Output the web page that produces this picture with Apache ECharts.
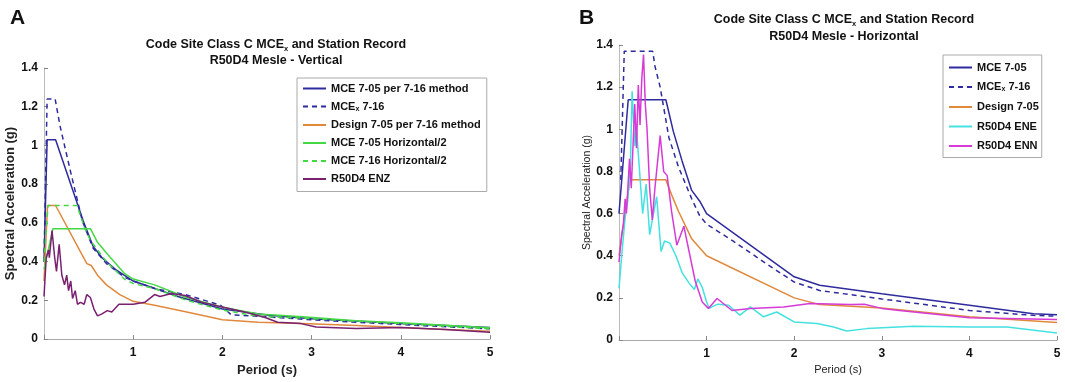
<!DOCTYPE html>
<html>
<head>
<meta charset="utf-8">
<script src="https://cdn.jsdelivr.net/npm/echarts@6/dist/echarts.min.js"></script>
<style>
  html, body { margin: 0; padding: 0; background: #fff; }
  #chart { width: 1065px; height: 382px; }
</style>
</head>
<body>
<div id="chart"></div>
<script>
// period (s), spectral acceleration (g)
// panel A - vertical
const mceVert = [[0, 0.4], [0.035, 1.03], [0.13, 1.03], [0.44, 0.61], [0.55, 0.48], [0.65, 0.42], [0.8, 0.36], [1.0, 0.3], [1.5, 0.22], [2.0, 0.155], [2.5, 0.125], [3.0, 0.105], [4.0, 0.08], [5.0, 0.06]]
const mcexVert = [[0, 0.4], [0.035, 1.24], [0.125, 1.24], [0.18, 1.1], [0.3, 0.86], [0.43, 0.61], [0.55, 0.47], [0.7, 0.39], [0.9, 0.32], [1.0, 0.3], [1.25, 0.26], [1.6, 0.228], [1.98, 0.175], [2.1, 0.125], [2.5, 0.115], [3.0, 0.1], [4.0, 0.075], [5.0, 0.053]]
const designVert = [[0, 0.3], [0.04, 0.69], [0.13, 0.69], [0.48, 0.39], [0.53, 0.38], [0.6, 0.33], [0.7, 0.28], [0.85, 0.23], [1.0, 0.195], [1.24, 0.175], [1.6, 0.14], [2.0, 0.1], [2.4, 0.087], [2.9, 0.08], [3.5, 0.07], [4.0, 0.06], [4.5, 0.05], [5.0, 0.04]]
const mceHalfVert = [[0, 0.36], [0.1, 0.57], [0.52, 0.57], [0.6, 0.5], [0.71, 0.44], [0.9, 0.34], [1.0, 0.31], [1.24, 0.28], [1.6, 0.215], [2.0, 0.165], [2.4, 0.13], [2.9, 0.115], [3.5, 0.095], [4.0, 0.085], [5.0, 0.058]]
const mce16HalfVert = [[0, 0.4], [0.045, 0.69], [0.37, 0.69], [0.45, 0.58], [0.52, 0.51], [0.7, 0.4], [0.9, 0.31], [1.0, 0.287], [1.25, 0.26], [1.6, 0.2], [2.0, 0.15], [2.4, 0.118], [2.9, 0.108], [4.0, 0.08], [5.0, 0.053]]
const enz = [[0, 0.22], [0.025, 0.42], [0.05, 0.46], [0.06, 0.42], [0.09, 0.56], [0.12, 0.42], [0.14, 0.35], [0.17, 0.49], [0.2, 0.33], [0.23, 0.28], [0.255, 0.33], [0.275, 0.25], [0.3, 0.3], [0.32, 0.21], [0.35, 0.25], [0.375, 0.18], [0.41, 0.19], [0.45, 0.18], [0.48, 0.23], [0.52, 0.215], [0.56, 0.155], [0.6, 0.12], [0.65, 0.13], [0.71, 0.147], [0.76, 0.14], [0.84, 0.18], [1.0, 0.18], [1.13, 0.19], [1.24, 0.23], [1.3, 0.22], [1.43, 0.235], [1.58, 0.225], [1.77, 0.19], [1.96, 0.17], [2.25, 0.14], [2.47, 0.113], [2.62, 0.087], [2.88, 0.08], [3.05, 0.062], [3.5, 0.055], [4.0, 0.06], [4.5, 0.05], [5.0, 0.035]]

// panel B - horizontal
const mceHor = [[0, 0.6], [0.105, 1.14], [0.535, 1.14], [0.62, 0.99], [0.72, 0.85], [0.83, 0.71], [0.92, 0.66], [1.0, 0.6], [2.0, 0.3], [2.29, 0.26], [3.0, 0.22], [4.0, 0.165], [4.73, 0.125], [5.0, 0.12]]
const mcexHor = [[0.02, 0.76], [0.06, 1.37], [0.385, 1.37], [0.41, 1.3], [0.47, 1.2], [0.57, 0.96], [0.68, 0.82], [0.83, 0.67], [0.92, 0.59], [1.0, 0.55], [1.3, 0.47], [1.69, 0.36], [2.0, 0.275], [2.29, 0.235], [3.0, 0.195], [4.0, 0.14], [4.73, 0.117], [5.0, 0.113]]
const designHor = [[0, 0.4], [0.125, 0.76], [0.535, 0.76], [0.6, 0.69], [0.68, 0.61], [0.83, 0.48], [1.0, 0.4], [2.0, 0.2], [2.29, 0.168], [3.0, 0.152], [4.0, 0.11], [5.0, 0.083]]
const ene = [[0, 0.245], [0.035, 0.42], [0.07, 0.58], [0.1, 0.66], [0.13, 0.83], [0.15, 1.18], [0.18, 0.92], [0.2, 1.0], [0.235, 0.8], [0.27, 0.6], [0.31, 0.74], [0.35, 0.5], [0.43, 0.68], [0.48, 0.42], [0.52, 0.47], [0.58, 0.46], [0.65, 0.4], [0.72, 0.32], [0.8, 0.27], [0.86, 0.24], [0.9, 0.29], [0.95, 0.25], [1.0, 0.18], [1.03, 0.15], [1.06, 0.157], [1.13, 0.17], [1.25, 0.165], [1.38, 0.118], [1.5, 0.157], [1.65, 0.11], [1.8, 0.133], [2.0, 0.086], [2.26, 0.078], [2.45, 0.062], [2.6, 0.043], [2.83, 0.054], [3.36, 0.065], [4.0, 0.062], [4.43, 0.062], [5.0, 0.033]]
const enn = [[0, 0.37], [0.03, 0.5], [0.05, 0.55], [0.07, 0.67], [0.085, 0.6], [0.12, 0.86], [0.14, 0.72], [0.18, 1.12], [0.2, 0.91], [0.22, 1.21], [0.24, 1.02], [0.26, 1.24], [0.28, 1.355], [0.3, 1.12], [0.32, 1.0], [0.35, 0.72], [0.38, 0.57], [0.41, 0.72], [0.47, 0.97], [0.51, 0.8], [0.55, 0.78], [0.6, 0.61], [0.66, 0.45], [0.74, 0.54], [0.8, 0.42], [0.87, 0.28], [0.95, 0.18], [1.02, 0.15], [1.12, 0.197], [1.29, 0.14], [1.5, 0.15], [1.88, 0.157], [2.18, 0.173], [2.64, 0.168], [2.8, 0.17], [3.0, 0.15], [3.2, 0.14], [4.0, 0.106], [5.0, 0.097]]

const namesA = ['MCE 7-05 per 7-16 method', 'MCEx 7-16', 'Design 7-05 per 7-16 method', 'MCE 7-05 Horizontal/2', 'MCE 7-16 Horizontal/2', 'R50D4 ENZ']
const namesB = ['MCE 7-05', 'MCEx 7-16 ', 'Design 7-05', 'R50D4 ENE', 'R50D4 ENN']

const FONT = 'Liberation Sans, Arial, sans-serif'
const BLUE = '#2e2b9e'
const ORANGE = '#e0893d'
const GREEN = '#44d844'

const chart = echarts.init(document.getElementById('chart'), null, { renderer: 'canvas' })

const subRich = {
  a: { fontFamily: FONT, fontWeight: 'bold', fontSize: 12.5, color: '#111' },
  s: { fontFamily: FONT, fontWeight: 'bold', fontSize: 7.5, color: '#111', verticalAlign: 'bottom', padding: [6, 0, 0, 0] }
}

const legendRich = {
  a: { fontFamily: FONT, fontWeight: 'bold', fontSize: 11, color: '#111' },
  s: { fontFamily: FONT, fontWeight: 'bold', fontSize: 7, color: '#111', verticalAlign: 'bottom', padding: [5, 0, 0, 0] }
}

function legendLabel(name) {
  name = name.trim()
  if (name.indexOf('MCEx') === 0) {
    return '{a|MCE}{s|x}{a|' + name.slice(4) + '}'
  }
  return '{a|' + name + '}'
}

function line(name, data, idx, color, dashed, width) {
  return {
    name: name,
    type: 'line',
    xAxisIndex: idx,
    yAxisIndex: idx,
    data: data,
    showSymbol: false,
    symbol: 'none',
    animation: false,
    lineStyle: { color: color, width: width || 1.5, type: dashed ? [5, 4] : 'solid' },
    itemStyle: { color: color }
  }
}

function xAxis(idx, bold, nameSize, gap) {
  return {
    type: 'value', gridIndex: idx, min: 0, max: 5, interval: 1,
    name: 'Period (s)', nameLocation: 'middle', nameGap: gap,
    nameTextStyle: { fontFamily: FONT, fontWeight: bold ? 'bold' : 'normal', fontSize: nameSize, color: '#222' },
    axisLine: { onZero: false, lineStyle: { color: '#aaa', width: 1 } },
    axisTick: { inside: true, length: 4, lineStyle: { color: '#888' } },
    axisLabel: {
      margin: 8, fontFamily: FONT, fontWeight: 'bold', fontSize: 12, color: '#111',
      formatter: v => (v === 0 ? '' : String(v))
    },
    splitLine: { show: false }
  }
}

function yAxis(idx, bold, nameSize, gap) {
  return {
    type: 'value', gridIndex: idx, min: 0, max: 1.4, interval: 0.2,
    name: 'Spectral Acceleration (g)', nameLocation: 'middle', nameGap: gap,
    nameTextStyle: { fontFamily: FONT, fontWeight: bold ? 'bold' : 'normal', fontSize: nameSize, color: '#222' },
    axisLine: { show: true, lineStyle: { color: '#bbb', width: 1 } },
    axisTick: { show: true, inside: true, length: 4, lineStyle: { color: '#888' } },
    axisLabel: {
      margin: 6, fontFamily: FONT, fontWeight: 'bold', fontSize: 12, color: '#111',
      formatter: v => String(Math.round(v * 10) / 10)
    },
    splitLine: { show: false }
  }
}

function legend(names, left, top, padding, gap) {
  return {
    data: names, orient: 'vertical', left: left, top: top,
    padding: padding, itemWidth: 23, itemHeight: 12, itemGap: gap,
    borderColor: '#aaa', borderWidth: 1, backgroundColor: '#fff',
    itemStyle: { opacity: 0 },
    formatter: legendLabel,
    textStyle: { rich: legendRich }
  }
}

chart.setOption({
  backgroundColor: '#fff',
  title: [
    { text: 'A', left: 5, top: 3, textStyle: { fontFamily: FONT, fontWeight: 'bold', fontSize: 21, color: '#111' } },
    { text: 'B', left: 574, top: 3, textStyle: { fontFamily: FONT, fontWeight: 'bold', fontSize: 21, color: '#111' } },
    {
      text: '{a|Code Site Class C MCE}{s|x}{a| and Station Record}\n{a|R50D4 Mesle - Vertical}',
      left: 271, top: 32, textAlign: 'center',
      textStyle: { lineHeight: 16, rich: subRich }
    },
    {
      text: '{a|Code Site Class C MCE}{s|x}{a| and Station Record}\n{a|R50D4 Mesle - Horizontal}',
      left: 839, top: 6, textAlign: 'center',
      textStyle: { lineHeight: 17, rich: subRich }
    }
  ],
  legend: [
    legend(namesA, 297, 78, [5, 6, 7, 5], 7),
    legend(namesB, 943, 55, [7, 3, 6, 5], 8.5)
  ],
  grid: [
    { left: 44, top: 68, width: 446, height: 273 },
    { left: 619, top: 45, width: 438, height: 295 }
  ],
  xAxis: [xAxis(0, true, 13, 19), xAxis(1, false, 11, 21)],
  yAxis: [yAxis(0, true, 13, 23), yAxis(1, false, 10.5, 21)],
  series: [
    line(namesA[0], mceVert, 0, BLUE, false),
    line(namesA[1], mcexVert, 0, BLUE, true),
    line(namesA[2], designVert, 0, ORANGE, false),
    line(namesA[3], mceHalfVert, 0, GREEN, false),
    line(namesA[4], mce16HalfVert, 0, GREEN, true),
    line(namesA[5], enz, 0, '#7a2070', false),
    line(namesB[0], mceHor, 1, BLUE, false),
    line(namesB[1], mcexHor, 1, BLUE, true),
    line(namesB[2], designHor, 1, ORANGE, false),
    line(namesB[3], ene, 1, '#45e0e0', false),
    line(namesB[4], enn, 1, '#d63bd6', false)
  ]
})
</script>
</body>
</html>
